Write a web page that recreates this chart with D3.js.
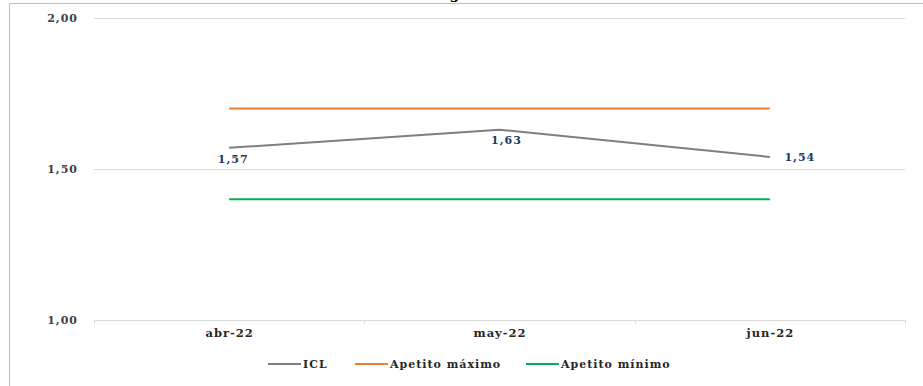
<!DOCTYPE html>
<html><head><meta charset="utf-8">
<script src="https://cdn.jsdelivr.net/npm/d3@7"></script>
<style>body{margin:0;background:#fff}svg{display:block}
svg text{font-family:'DejaVu Serif',serif !important;font-weight:bold !important;letter-spacing:1px}</style>
</head><body><svg id="c" width="923" height="386" font-family="DejaVu Serif, serif" font-weight="bold"></svg>
<script>
const categories = ["abr-22","may-22","jun-22"];
const icl = [1.57,1.63,1.54];
const apetitoMax = [1.70,1.70,1.70];
const apetitoMin = [1.40,1.40,1.40];
const yTicks = [1.00,1.50,2.00];
const seriesNames = ["ICL","Apetito máximo","Apetito mínimo"];
const colors = ["#7F7F7F","#ED7D31","#00B050"];

const svg = d3.select("#c");
// frame
svg.append("path").attr("d","M9.5,386 V3.5 H923").attr("fill","none").attr("stroke","#BFBFBF").attr("stroke-width",1);
// partial title (cut at top in the reference)
svg.append("text").attr("x",455).attr("y",-1).attr("text-anchor","middle").attr("font-size",14).attr("fill","#000").text("g");

const x = d3.scaleBand().domain(categories).range([94,905]).paddingInner(0).paddingOuter(0);
const y = d3.scaleLinear().domain([1,2]).range([320,18]);
const fmt = v => d3.format(".2f")(v).replace(".",",");

// gridlines
svg.append("g").selectAll("line").data(yTicks).join("line")
  .attr("x1",94).attr("x2",905).attr("y1",d=>Math.round(y(d))+0.5).attr("y2",d=>Math.round(y(d))+0.5)
  .attr("stroke","#D9D9D9").attr("stroke-width",1);
// y labels
svg.append("g").selectAll("text").data(yTicks).join("text")
  .attr("x",78).attr("y",d=>y(d)+4).attr("text-anchor","end").attr("font-size",11).attr("fill","#404040").text(fmt);
// x axis
const xa = svg.append("g").attr("transform","translate(0,320)").call(d3.axisBottom(x).tickSize(0).tickPadding(9));
xa.select(".domain").remove();
xa.attr("font-family",null).attr("font-size",null);
xa.selectAll("text").attr("font-size",11.5).attr("fill","#262626").attr("dx","0.5");
const edges = categories.map(c=>x(c)).concat([x(categories[2])+x.bandwidth()]);
svg.append("g").selectAll("line").data(edges).join("line")
  .attr("x1",d=>Math.round(d)+0.5).attr("x2",d=>Math.round(d)+0.5).attr("y1",320).attr("y2",324)
  .attr("stroke","#D9D9D9");

const cx = c => x(c)+x.bandwidth()/2;
const line = d3.line().x((d,i)=>cx(categories[i])).y(d=>y(d));
[[apetitoMax,1],[apetitoMin,2],[icl,0]].forEach(([s,idx])=>{
  svg.append("path").datum(s).attr("d",line).attr("fill","none").attr("stroke",colors[idx]).attr("stroke-width",2);
});

// data labels
const lblOff = [[4,15],[7,14],[30,4]];
svg.append("g").selectAll("text").data(icl).join("text")
  .attr("x",(d,i)=>cx(categories[i])+lblOff[i][0]).attr("y",(d,i)=>y(d)+lblOff[i][1])
  .attr("text-anchor","middle").attr("font-size",11).attr("fill","#203864").text(fmt);

// legend
const legX = [268,355,526];
const lg = svg.append("g");
seriesNames.forEach((n,i)=>{
  lg.append("line").attr("x1",legX[i]).attr("x2",legX[i]+33).attr("y1",364).attr("y2",364).attr("stroke",colors[i]).attr("stroke-width",2);
  lg.append("text").attr("x",legX[i]+35).attr("y",368).attr("font-size",11).attr("fill","#262626").text(n);
});
</script></body></html>
